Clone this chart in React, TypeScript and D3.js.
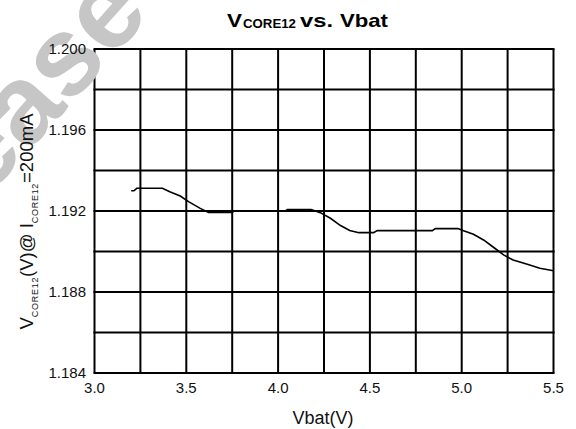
import React from "react";
import * as d3 from "d3";

const vbat = [3.2, 3.215, 3.23, 3.37, 3.41, 3.467, 3.512, 3.576, 3.621, 3.75, 3.76, 4.04, 4.05, 4.18, 4.23, 4.285, 4.34, 4.39, 4.44, 4.52, 4.54, 4.84, 4.856, 4.98, 5.01, 5.064, 5.119, 5.173, 5.228, 5.28, 5.353, 5.426, 5.5];
const vcore = [1.193, 1.193, 1.19312, 1.19312, 1.19295, 1.19274, 1.19246, 1.19213, 1.19193, 1.19193, 1.192, 1.192, 1.19207, 1.19207, 1.19192, 1.19164, 1.19128, 1.19104, 1.19093, 1.19093, 1.19103, 1.19103, 1.19113, 1.19113, 1.19103, 1.19085, 1.19057, 1.19021, 1.18983, 1.18958, 1.18938, 1.18917, 1.18905];
const xTicks = [3.0, 3.5, 4.0, 4.5, 5.0, 5.5];
const xGrid = [3.0, 3.25, 3.5, 3.75, 4.0, 4.25, 4.5, 4.75, 5.0, 5.25, 5.5];
const yTicks = [1.184, 1.188, 1.192, 1.196, 1.2];
const yGrid = [1.184, 1.186, 1.188, 1.19, 1.192, 1.194, 1.196, 1.198, 1.2];

const FONT = "Arial, 'Liberation Sans', sans-serif";

export default function App() {
  const W = 576, H = 429;
  const left = 94.5, right = 553.5, top = 49, bottom = 373;
  const x = d3.scaleLinear().domain([3.0, 5.5]).range([left, right]);
  const y = d3.scaleLinear().domain([1.184, 1.2]).range([bottom, top]);
  const pts: [number, number][] = vbat.map((v, i) => [v, vcore[i]]);
  const line = d3.line<[number, number]>().x(d => x(d[0])).y(d => y(d[1]));

  return (
    <svg width={W} height={H} style={{ position: "absolute", left: 0, top: 0, background: "#fff" }} fontFamily={FONT}>
      <rect width={W} height={H} fill="#fff" />
      {yGrid.map(v => (
        <line key={"h" + v} x1={left - 1} x2={right + 1} y1={y(v)} y2={y(v)} stroke="#000" strokeWidth={2} />
      ))}
      {xGrid.map(v => (
        <line key={"v" + v} x1={x(v)} x2={x(v)} y1={top} y2={bottom} stroke="#000" strokeWidth={2} />
      ))}
      <path d={line(pts) || ""} fill="none" stroke="#000" strokeWidth={1.6} />
      <text
        transform="translate(152,14) rotate(-48)"
        textAnchor="end"
        fontSize={112}
        fontWeight="bold"
        fill="#c6c6c6"
      >
        Release
      </text>
      {yTicks.map(v => (
        <text key={"yt" + v} x={86} y={y(v)} dy="0.35em" textAnchor="end" fontSize={15} fill="#111">
          {d3.format(".3f")(v)}
        </text>
      ))}
      {xTicks.map(v => (
        <text key={"xt" + v} x={x(v)} y={393} textAnchor="middle" fontSize={15} fill="#111">
          {d3.format(".1f")(v)}
        </text>
      ))}
      <text x={323} y={424} textAnchor="middle" fontSize={18} fill="#111">Vbat(V)</text>
      <g fontWeight="bold" fill="#000">
        <text x={227} y={27} fontSize={18.5} textLength={15} lengthAdjust="spacingAndGlyphs">V</text>
        <text x={243} y={28} fontSize={13.5} textLength={53} lengthAdjust="spacingAndGlyphs">CORE12</text>
        <text x={300} y={27} fontSize={18.5} textLength={33} lengthAdjust="spacingAndGlyphs">vs.</text>
        <text x={340} y={27} fontSize={18.5} textLength={48} lengthAdjust="spacingAndGlyphs">Vbat</text>
      </g>
      <text transform="translate(33,221.5) rotate(-90)" textAnchor="middle" fontSize={18.5} fill="#111">
        <tspan>V</tspan>
        <tspan fontSize={9} letterSpacing={0.7} dy={5}>CORE12</tspan>
        <tspan dy={-5}>(V)@ I</tspan>
        <tspan fontSize={9} letterSpacing={0.7} dy={5}>CORE12</tspan>
        <tspan dy={-5}>=200mA</tspan>
      </text>
    </svg>
  );
}
